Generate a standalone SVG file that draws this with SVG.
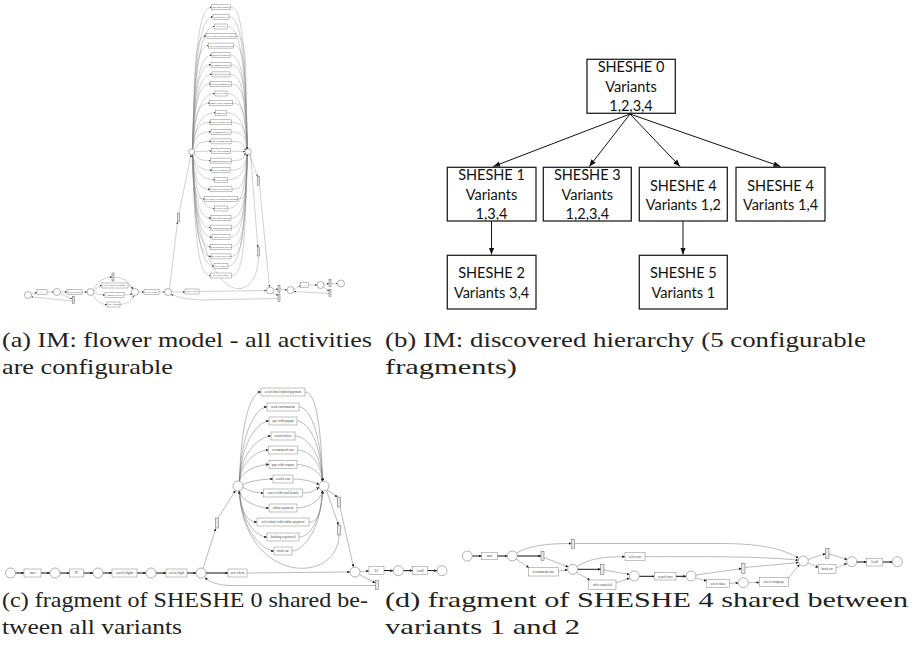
<svg xmlns="http://www.w3.org/2000/svg" width="916" height="661" viewBox="0 0 916 661">
<style>
.p{fill:#fff;stroke:#666;stroke-width:0.5}
.t{fill:#fff;stroke:#777;stroke-width:0.45}
.s{fill:#e6e6e6;stroke:#555;stroke-width:0.45}
.e{fill:none;stroke:#8a8a8a;stroke-width:0.4;marker-end:url(#ma)}
.ec{fill:none;stroke:#777;stroke-width:0.5;marker-end:url(#mc)}
.k{fill:none;stroke:#111;stroke-width:1;marker-end:url(#mc)}
.l1{font-family:"Liberation Serif",serif;font-size:2.6px;fill:#444;text-anchor:middle}
.l2{font-family:"Liberation Serif",serif;font-size:3.3px;fill:#444;text-anchor:middle}
.bx{fill:#fff;stroke:#222;stroke-width:1.3}
.bt{font-family:Lato,"Liberation Sans",sans-serif;font-size:14.5px;fill:#111;text-anchor:middle}
.be{fill:none;stroke:#111;stroke-width:1;marker-end:url(#mb)}
.cap{font-family:"Liberation Serif",serif;font-size:22px;fill:#222}
</style>
<defs>
<marker id="ma" viewBox="0 0 10 10" refX="10" refY="5" markerWidth="2" markerHeight="2" markerUnits="userSpaceOnUse" orient="auto"><path d="M0,0L10,5L0,10z" fill="#333"/></marker>
<marker id="mc" viewBox="0 0 10 10" refX="10" refY="5" markerWidth="2.8" markerHeight="2.8" markerUnits="userSpaceOnUse" orient="auto"><path d="M0,0L10,5L0,10z" fill="#222"/></marker>
<marker id="mb" viewBox="0 0 10 10" refX="10" refY="5" markerWidth="7" markerHeight="7" markerUnits="userSpaceOnUse" orient="auto"><path d="M0,1L10,5L0,9z" fill="#111"/></marker>
</defs>

<!-- (a) connectors -->
<g id="edges-a">
<path class="e" d="M192.5,149.2 C195,43.4 199.5,7.3 211.5,7.3"/><path class="e" d="M230.5,7.3 C242.5,7.3 245,43.4 247.4,149.2"/>
<path class="e" d="M192.5,149.2 C195,50.6 201,16.9 213,16.9"/><path class="e" d="M229,16.9 C241,16.9 245,50.6 247.4,149.2"/>
<path class="e" d="M192.5,149.2 C195,57.8 202.5,26.5 214.5,26.5"/><path class="e" d="M227.5,26.5 C239.5,26.5 245,57.8 247.4,149.2"/>
<path class="e" d="M192.5,149.2 C195,65 194,36 206,36"/><path class="e" d="M236,36 C248,36 245,65 247.4,149.2"/>
<path class="e" d="M192.5,149.2 C195,72.2 196.5,45.6 208.5,45.6"/><path class="e" d="M233.5,45.6 C245.5,45.6 245,72.2 247.4,149.2"/>
<path class="e" d="M192.5,149.2 C195,79.4 200,55.2 212,55.2"/><path class="e" d="M230,55.2 C242,55.2 245,79.4 247.4,149.2"/>
<path class="e" d="M192.5,149.2 C195,86.6 199,64.8 211,64.8"/><path class="e" d="M231,64.8 C243,64.8 245,86.6 247.4,149.2"/>
<path class="e" d="M192.5,149.2 C195,93.8 200,74.4 212,74.4"/><path class="e" d="M230,74.4 C242,74.4 245,93.8 247.4,149.2"/>
<path class="e" d="M192.5,149.2 C195,100.9 198.5,83.9 210.5,83.9"/><path class="e" d="M231.5,83.9 C243.5,83.9 245,100.9 247.4,149.2"/>
<path class="e" d="M192.5,149.2 C195,108.1 203,93.5 215,93.5"/><path class="e" d="M227,93.5 C239,93.5 245,108.1 247.4,149.2"/>
<path class="e" d="M192.5,149.2 C195,115.3 197.5,103.1 209.5,103.1"/><path class="e" d="M232.5,103.1 C244.5,103.1 245,115.3 247.4,149.2"/>
<path class="e" d="M192.5,149.2 C195,122.5 203.5,112.7 215.5,112.7"/><path class="e" d="M226.5,112.7 C238.5,112.7 245,122.5 247.4,149.2"/>
<path class="e" d="M192.5,149.2 C195,129.7 198.5,122.3 210.5,122.3"/><path class="e" d="M231.5,122.3 C243.5,122.3 245,129.7 247.4,149.2"/>
<path class="e" d="M192.5,149.2 C195,136.8 199,131.8 211,131.8"/><path class="e" d="M231,131.8 C243,131.8 245,136.8 247.4,149.2"/>
<path class="e" d="M194.4,150.5 C197,144 199,141.4 211,141.4"/><path class="e" d="M231,141.4 C243,141.4 243,144 245.5,150.5"/>
<path class="e" d="M194.7,151.7 L211.5,151"/><path class="e" d="M230.5,151 L245.2,151.7"/>
<path class="e" d="M194.4,153.1 C197,158.4 198.5,160.6 210.5,160.6"/><path class="e" d="M231.5,160.6 C243.5,160.6 243,158.4 245.5,153.1"/>
<path class="e" d="M192.5,154.4 C195,165.6 200,170.2 212,170.2"/><path class="e" d="M230,170.2 C242,170.2 245,165.6 247.4,154.4"/>
<path class="e" d="M192.5,154.4 C195,172.7 202.5,179.7 214.5,179.7"/><path class="e" d="M227.5,179.7 C239.5,179.7 245,172.7 247.4,154.4"/>
<path class="e" d="M192.5,154.4 C195,179.9 198,189.3 210,189.3"/><path class="e" d="M232,189.3 C244,189.3 245,179.9 247.4,154.4"/>
<path class="e" d="M192.5,154.4 C195,187.1 192.5,198.9 204.5,198.9"/><path class="e" d="M237.5,198.9 C249.5,198.9 245,187.1 247.4,154.4"/>
<path class="e" d="M192.5,154.4 C195,194.3 202.5,208.5 214.5,208.5"/><path class="e" d="M227.5,208.5 C239.5,208.5 245,194.3 247.4,154.4"/>
<path class="e" d="M192.5,154.4 C195,201.5 199,218.1 211,218.1"/><path class="e" d="M231,218.1 C243,218.1 245,201.5 247.4,154.4"/>
<path class="e" d="M192.5,154.4 C195,208.7 198.5,227.6 210.5,227.6"/><path class="e" d="M231.5,227.6 C243.5,227.6 245,208.7 247.4,154.4"/>
<path class="e" d="M192.5,154.4 C195,215.9 200,237.2 212,237.2"/><path class="e" d="M230,237.2 C242,237.2 245,215.9 247.4,154.4"/>
<path class="e" d="M192.5,154.4 C195,223.1 198.5,246.8 210.5,246.8"/><path class="e" d="M231.5,246.8 C243.5,246.8 245,223.1 247.4,154.4"/>
<path class="e" d="M192.5,154.4 C195,230.3 199,256.4 211,256.4"/><path class="e" d="M231,256.4 C243,256.4 245,230.3 247.4,154.4"/>
<path class="e" d="M192.5,154.4 C195,237.5 202,266 214,266"/><path class="e" d="M228,266 C240,266 245,237.5 247.4,154.4"/>
<path class="e" d="M192.5,154.4 C195,244.6 198.5,275.5 210.5,275.5"/><path class="e" d="M231.5,275.5 C243.5,275.5 245,244.6 247.4,154.4"/>
<path class="e" d="M31.5,294.3 L37,292.5"/>
<path class="e" d="M47,292 L53.5,292"/>
<path class="e" d="M60.5,292 L67,292"/>
<path class="e" d="M60.3,293.8 L72.3,299"/>
<path class="e" d="M72.3,301 L31.4,296.8"/>
<path class="e" d="M82,292 L87,292"/>
<path class="e" d="M93,289.5 Q100,277 112,277"/><path class="e" d="M114,277 Q127,277 133,289"/>
<path class="e" d="M94,291 Q98,285.5 102,285.5"/><path class="e" d="M128,285.5 Q132,286 132.3,289.3"/>
<path class="e" d="M94,293 Q99,295 105,295"/><path class="e" d="M124,295 Q129,295 132.3,293.8"/>
<path class="e" d="M93,295 Q98,304.5 107,304.5"/><path class="e" d="M120,304.5 Q130,304 134,295.5"/>
<path class="e" d="M138.5,292 L144,292"/>
<path class="e" d="M159,292 L164.5,292"/>
<path class="e" d="M171.5,292 L185,292"/>
<path class="e" d="M199,291.5 L266.5,290.5"/>
<path class="e" d="M169.5,288.8 L177.5,222"/>
<path class="e" d="M179,213 L191,155"/>
<path class="e" d="M249.5,154.6 L257.5,176.5"/>
<path class="e" d="M259.5,185.5 L269.5,287"/>
<path class="e" d="M250.5,153.8 L257.8,247"/>
<path class="e" d="M258.5,256 C258,310 196,310 192,155"/>
<path class="e" d="M273,292.5 L278,295.5"/>
<path class="e" d="M278,298.5 L200,300 Q185,300 171,294.5"/>
<path class="e" d="M273.5,290 L278,289"/>
<path class="e" d="M280,289 L287,290"/>
<path class="e" d="M294,289.5 L300.5,285.5"/>
<path class="e" d="M308.5,285 L317,285"/>
<path class="e" d="M324,284.5 L329,283.5"/>
<path class="e" d="M331,283.5 L337.5,283.5"/>
<path class="e" d="M323.5,287 L329,291"/>
<path class="e" d="M329,293.5 L294,291.5"/>
</g>

<!-- (a) nodes -->
<g id="a-p0"><circle class="p" cx="28" cy="295" r="3.5"/></g>
<g id="a-t1"><rect class="t" x="37" y="289.5" width="10" height="5"/><text class="l1" x="42" y="292.9">t1</text></g>
<g id="a-p1"><circle class="p" cx="57" cy="292" r="3.5"/></g>
<g id="a-sf"><rect class="t" x="67" y="289.5" width="15" height="5"/><text class="l1" x="74.5" y="292.9">search flights</text></g>
<g id="a-s0"><rect class="s" x="72.3" y="296.5" width="2" height="7"/></g>
<g id="a-p2"><circle class="p" cx="90.5" cy="292" r="3.5"/></g>
<g id="a-s1"><rect class="s" x="112" y="273" width="2" height="8"/></g>
<g id="a-pd"><rect class="t" x="102" y="283" width="26" height="5"/><text class="l1" x="115" y="286.4">percentage discount</text></g>
<g id="a-co"><rect class="t" x="105" y="292.5" width="19" height="5"/><text class="l1" x="114.5" y="295.9">compare offers</text></g>
<g id="a-ff"><rect class="t" x="107" y="302" width="13" height="5"/><text class="l1" x="113.5" y="305.4">filter flights</text></g>
<g id="a-p3"><circle class="p" cx="135" cy="292" r="3.5"/></g>
<g id="a-sel"><rect class="t" x="144" y="289.5" width="15" height="5"/><text class="l1" x="151.5" y="292.9">select flight</text></g>
<g id="a-p4"><circle class="p" cx="168" cy="292" r="3.5"/></g>
<g id="a-nc"><rect class="t" x="185" y="289" width="14" height="5"/><text class="l1" x="192" y="292.4">new client</text></g>
<g id="a-s3"><rect class="s" x="177.4" y="213" width="2" height="9"/></g>
<g id="a-L"><circle class="p" cx="191.7" cy="151.8" r="3"/></g>
<g id="a-R"><circle class="p" cx="248.2" cy="151.8" r="3"/></g>
<g id="a-s4"><rect class="s" x="257.5" y="176.5" width="2" height="9"/></g>
<g id="a-s5"><rect class="s" x="257.5" y="247" width="2" height="9"/></g>
<g id="a-p5"><circle class="p" cx="270" cy="290.5" r="3.5"/></g>
<g id="a-s6"><rect class="s" x="278" y="285.5" width="2" height="7"/></g>
<g id="a-s7"><rect class="s" x="278" y="294.5" width="2" height="7"/></g>
<g id="a-p6"><circle class="p" cx="290.5" cy="290" r="3.5"/></g>
<g id="a-t2"><rect class="t" x="300.5" y="282.3" width="8" height="5"/><text class="l1" x="304.5" y="285.7">t1</text></g>
<g id="a-p7"><circle class="p" cx="320.5" cy="285" r="3.5"/></g>
<g id="a-s8"><rect class="s" x="329" y="279.5" width="2" height="7"/></g>
<g id="a-s9"><rect class="s" x="329" y="289.5" width="2" height="7"/></g>
<g id="a-p8"><circle class="p" cx="341" cy="283.5" r="3.5"/></g>
<g id="a-flower">
<g id="a-f0"><rect class="t" x="211.5" y="4.8" width="19" height="5"/><text class="l1" x="221" y="8.2">confirm payment</text></g>
<g id="a-f1"><rect class="t" x="213" y="14.4" width="16" height="5"/><text class="l1" x="221" y="17.8">search hotels</text></g>
<g id="a-f2"><rect class="t" x="214.5" y="24" width="13" height="5"/><text class="l1" x="221" y="27.4">select city</text></g>
<g id="a-f3"><rect class="t" x="206" y="33.5" width="30" height="5"/><text class="l1" x="221" y="36.9">select hotel hybrid payment</text></g>
<g id="a-f4"><rect class="t" x="208.5" y="43.1" width="25" height="5"/><text class="l1" x="221" y="46.5">enter credit card details</text></g>
<g id="a-f5"><rect class="t" x="212" y="52.7" width="18" height="5"/><text class="l1" x="221" y="56.1">online payment</text></g>
<g id="a-f6"><rect class="t" x="211" y="62.3" width="20" height="5"/><text class="l1" x="221" y="65.7">recommend hotels</text></g>
<g id="a-f7"><rect class="t" x="212" y="71.9" width="18" height="5"/><text class="l1" x="221" y="75.3">pay with paypal</text></g>
<g id="a-f8"><rect class="t" x="210.5" y="81.4" width="21" height="5"/><text class="l1" x="221" y="84.8">search promotions</text></g>
<g id="a-f9"><rect class="t" x="215" y="91" width="12" height="5"/><text class="l1" x="221" y="94.4">select car</text></g>
<g id="a-f10"><rect class="t" x="209.5" y="100.6" width="23" height="5"/><text class="l1" x="221" y="104">remove other products</text></g>
<g id="a-f11"><rect class="t" x="215.5" y="110.2" width="11" height="5"/><text class="l1" x="221" y="113.6">book car</text></g>
<g id="a-f12"><rect class="t" x="210.5" y="119.8" width="21" height="5"/><text class="l1" x="221" y="123.2">send welcome offer</text></g>
<g id="a-f13"><rect class="t" x="211" y="129.3" width="20" height="5"/><text class="l1" x="221" y="132.7">recommend cars</text></g>
<g id="a-f14"><rect class="t" x="211" y="138.9" width="20" height="5"/><text class="l1" x="221" y="142.3">enter promo code</text></g>
<g id="a-f15"><rect class="t" x="211.5" y="148.5" width="19" height="5"/><text class="l1" x="221" y="151.9">pay with coupon</text></g>
<g id="a-f16"><rect class="t" x="210.5" y="158.1" width="21" height="5"/><text class="l1" x="221" y="161.5">booking registered</text></g>
<g id="a-f17"><rect class="t" x="212" y="167.7" width="18" height="5"/><text class="l1" x="221" y="171.1">select company</text></g>
<g id="a-f18"><rect class="t" x="214.5" y="177.2" width="13" height="5"/><text class="l1" x="221" y="180.6">select dates</text></g>
<g id="a-f19"><rect class="t" x="210" y="186.8" width="22" height="5"/><text class="l1" x="221" y="190.2">register client hotel</text></g>
<g id="a-f20"><rect class="t" x="204.5" y="196.4" width="33" height="5"/><text class="l1" x="221" y="199.8">select hotel with online payment</text></g>
<g id="a-f21"><rect class="t" x="214.5" y="206" width="13" height="5"/><text class="l1" x="221" y="209.4">search cars</text></g>
<g id="a-f22"><rect class="t" x="211" y="215.6" width="20" height="5"/><text class="l1" x="221" y="219">send confirmation</text></g>
<g id="a-f23"><rect class="t" x="210.5" y="225.1" width="21" height="5"/><text class="l1" x="221" y="228.5">search hybrid hotels</text></g>
<g id="a-f24"><rect class="t" x="212" y="234.7" width="18" height="5"/><text class="l1" x="221" y="238.1">offer canceled</text></g>
<g id="a-f25"><rect class="t" x="210.5" y="244.3" width="21" height="5"/><text class="l1" x="221" y="247.7">search online hotels</text></g>
<g id="a-f26"><rect class="t" x="211" y="253.9" width="20" height="5"/><text class="l1" x="221" y="257.3">pay with credit card</text></g>
<g id="a-f27"><rect class="t" x="214" y="263.5" width="14" height="5"/><text class="l1" x="221" y="266.9">filter hotels</text></g>
<g id="a-f28"><rect class="t" x="210.5" y="273" width="21" height="5"/><text class="l1" x="221" y="276.4">new client hotel</text></g>
</g>

<!-- (b) connectors -->
<g id="edges-b">
<path class="be" d="M630,114 L493.3,166.5"/>
<path class="be" d="M630,114 L589.3,166.5"/>
<path class="be" d="M630,114 L680,166.5"/>
<path class="be" d="M630,114 L780.5,166.5"/>
<path class="be" d="M491.5,221 L491.5,254.5"/>
<path class="be" d="M683,221 L683,254.5"/>
</g>
<g id="b-n0"><rect class="bx" x="587" y="59.3" width="88.3" height="54"/><text class="bt" x="631" y="72.3">SHESHE 0</text><text class="bt" x="631" y="91.5">Variants</text><text class="bt" x="631" y="110.5">1,2,3,4</text></g>
<g id="b-n1"><rect class="bx" x="447.3" y="167.3" width="88.7" height="53.7"/><text class="bt" x="491.5" y="180.3">SHESHE 1</text><text class="bt" x="491.5" y="199.5">Variants</text><text class="bt" x="491.5" y="218.5">1,3,4</text></g>
<g id="b-n3"><rect class="bx" x="543.3" y="167.3" width="88" height="53.7"/><text class="bt" x="587.3" y="180.3">SHESHE 3</text><text class="bt" x="587.3" y="199.5">Variants</text><text class="bt" x="587.3" y="218.5">1,2,3,4</text></g>
<g id="b-n4"><rect class="bx" x="639.3" y="167.3" width="88" height="53.7"/><text class="bt" x="683.3" y="190.5">SHESHE 4</text><text class="bt" x="683.3" y="209.8">Variants 1,2</text></g>
<g id="b-n4b"><rect class="bx" x="736" y="167.3" width="89" height="53.7"/><text class="bt" x="780.5" y="190.5">SHESHE 4</text><text class="bt" x="780.5" y="209.8">Variants 1,4</text></g>
<g id="b-n2"><rect class="bx" x="447.3" y="255.3" width="88.7" height="53.7"/><text class="bt" x="491.5" y="278.3">SHESHE 2</text><text class="bt" x="491.5" y="297.8">Variants 3,4</text></g>
<g id="b-n5"><rect class="bx" x="639.3" y="255.3" width="88" height="53.7"/><text class="bt" x="683.3" y="278.3">SHESHE 5</text><text class="bt" x="683.3" y="297.8">Variants 1</text></g>

<!-- (c) connectors -->
<g id="edges-c">
<path class="k" d="M15.5,573 L24,573"/>
<path class="k" d="M41,573 L50,573"/>
<path class="k" d="M60,573 L69.5,573"/>
<path class="k" d="M83.5,573 L93,573"/>
<path class="k" d="M103,573 L112,573"/>
<path class="k" d="M137,573 L146,573"/>
<path class="k" d="M156,573 L166,573"/>
<path class="k" d="M187,573 L196,573"/>
<path class="k" d="M206,573 L228,573"/>
<path class="ec" d="M247,573 L350,572"/>
<path class="ec" d="M203,568.5 L215.8,528.5"/>
<path class="ec" d="M218,518 L235.5,490.5"/>
<path class="ec" d="M239.5,481.3 C241,420.2 251,392 261,392"/><path class="ec" d="M305,392 C315,392 321,420.2 322.5,481.3"/>
<path class="ec" d="M239.5,481.3 C241,430.7 257,407 267,407"/><path class="ec" d="M299,407 C309,407 321,430.7 322.5,481.3"/>
<path class="ec" d="M239.5,481.3 C241,440.5 259,421 269,421"/><path class="ec" d="M297,421 C307,421 321,440.5 322.5,481.3"/>
<path class="ec" d="M239.5,481.3 C241,451 261,436 271,436"/><path class="ec" d="M295,436 C305,436 321,451 322.5,481.3"/>
<path class="ec" d="M239.5,481.3 C241,460.8 258.5,450 268.5,450"/><path class="ec" d="M297.5,450 C307.5,450 321,460.8 322.5,481.3"/>
<path class="ec" d="M239.5,481.3 C241,471 259,464.5 269,464.5"/><path class="ec" d="M297,464.5 C307,464.5 321,471 322.5,481.3"/>
<path class="ec" d="M242.8,484.6 C250,481.1 263,479 273,479"/><path class="ec" d="M293,479 C303,479 312,481.1 319.2,484.6"/>
<path class="ec" d="M242.8,487.4 C250,490.9 253.5,493 263.5,493"/><path class="ec" d="M302.5,493 C312.5,493 312,490.9 319.2,487.4"/>
<path class="ec" d="M239.5,490.7 C241,501.4 259,508 269,508"/><path class="ec" d="M297,508 C307,508 321,501.4 322.5,490.7"/>
<path class="ec" d="M239.5,490.7 C241,511.2 247,522 257,522"/><path class="ec" d="M309,522 C319,522 321,511.2 322.5,490.7"/>
<path class="ec" d="M239.5,490.7 C241,521.7 257,537 267,537"/><path class="ec" d="M299,537 C309,537 321,521.7 322.5,490.7"/>
<path class="ec" d="M239.5,490.7 C241,531.5 264,551 274,551"/><path class="ec" d="M292,551 C302,551 321,531.5 322.5,490.7"/>
<path class="ec" d="M327,490 L337.5,497"/>
<path class="ec" d="M340,507 L353.5,567"/>
<path class="ec" d="M326.5,490.5 L338.5,525"/>
<path class="ec" d="M339,535 C338,585 245,585 239,491"/>
<path class="ec" d="M360,571.5 L369,571"/>
<path class="k" d="M384,570.5 L393,570.7"/>
<path class="k" d="M403.3,570.7 L412.7,570.5"/>
<path class="k" d="M427.7,570.5 L437,570.7"/>
<path class="ec" d="M359.5,574.5 L375.3,583"/>
<path class="ec" d="M375.3,585.5 L230,585.5 Q212,585 205,577.5"/>
</g>
<g id="c-p0"><circle class="p" cx="10.5" cy="573" r="5"/></g>
<g id="c-start"><rect class="t" x="24" y="569" width="17" height="8"/><text class="l2" x="32.5" y="574.2">start</text></g>
<g id="c-p1"><circle class="p" cx="55" cy="573" r="5"/></g>
<g id="c-ff"><rect class="t" x="69.5" y="569" width="14" height="8"/><text class="l2" x="76.5" y="574.2">FF</text></g>
<g id="c-p2"><circle class="p" cx="98" cy="573" r="5"/></g>
<g id="c-sf"><rect class="t" x="112" y="569" width="25" height="8"/><text class="l2" x="124.5" y="574.2">search flights</text></g>
<g id="c-p3"><circle class="p" cx="151" cy="573" r="5"/></g>
<g id="c-sel"><rect class="t" x="166" y="569" width="21" height="8"/><text class="l2" x="176.5" y="574.2">select flight</text></g>
<g id="c-p4"><circle class="p" cx="201" cy="573" r="5"/></g>
<g id="c-nc"><rect class="t" x="228" y="569" width="19" height="8"/><text class="l2" x="237.5" y="574.2">new client</text></g>
<g id="c-s1"><rect class="s" x="215.5" y="518" width="3" height="10"/></g>
<g id="c-L"><circle class="p" cx="238" cy="486" r="5"/></g>
<g id="c-R"><circle class="p" cx="324" cy="486" r="5"/></g>
<g id="c-s2"><rect class="s" x="337.5" y="497" width="3" height="10"/></g>
<g id="c-s3"><rect class="s" x="337.5" y="525" width="3" height="10"/></g>
<g id="c-p5"><circle class="p" cx="355" cy="572" r="5"/></g>
<g id="c-e1"><rect class="t" x="369" y="566.5" width="15" height="8"/><text class="l2" x="376.5" y="571.7">E1</text></g>
<g id="c-p6"><circle class="p" cx="398.3" cy="570.7" r="5"/></g>
<g id="c-end"><rect class="t" x="412.7" y="566.5" width="15" height="8"/><text class="l2" x="420.2" y="571.7">[end]</text></g>
<g id="c-p7"><circle class="p" cx="442" cy="570.7" r="5"/></g>
<g id="c-s4"><rect class="s" x="375.3" y="580.5" width="3" height="9"/></g>
<g id="c-b0"><rect class="t" x="261" y="388" width="44" height="8"/><text class="l2" x="283" y="393.2">select hotel hybrid payment</text></g>
<g id="c-b1"><rect class="t" x="267" y="403" width="32" height="8"/><text class="l2" x="283" y="408.2">send confirmation</text></g>
<g id="c-b2"><rect class="t" x="269" y="417" width="28" height="8"/><text class="l2" x="283" y="422.2">pay with paypal</text></g>
<g id="c-b3"><rect class="t" x="271" y="432" width="24" height="8"/><text class="l2" x="283" y="437.2">search hotels</text></g>
<g id="c-b4"><rect class="t" x="268.5" y="446" width="29" height="8"/><text class="l2" x="283" y="451.2">recommend cars</text></g>
<g id="c-b5"><rect class="t" x="269" y="460.5" width="28" height="8"/><text class="l2" x="283" y="465.7">pay with coupon</text></g>
<g id="c-b6"><rect class="t" x="273" y="475" width="20" height="8"/><text class="l2" x="283" y="480.2">search cars</text></g>
<g id="c-b7"><rect class="t" x="263.5" y="489" width="39" height="8"/><text class="l2" x="283" y="494.2">enter credit card details</text></g>
<g id="c-b8"><rect class="t" x="269" y="504" width="28" height="8"/><text class="l2" x="283" y="509.2">online payment</text></g>
<g id="c-b9"><rect class="t" x="257" y="518" width="52" height="8"/><text class="l2" x="283" y="523.2">select hotel with online payment</text></g>
<g id="c-b10"><rect class="t" x="267" y="533" width="32" height="8"/><text class="l2" x="283" y="538.2">booking registered</text></g>
<g id="c-b11"><rect class="t" x="274" y="547" width="18" height="8"/><text class="l2" x="283" y="552.2">book car</text></g>

<!-- (d) connectors -->
<g id="edges-d">
<path class="k" d="M472.3,556 L481.7,556"/>
<path class="k" d="M497.3,556 L507.3,556"/>
<path class="ec" d="M516.5,553 C530,545 550,543.5 571.5,543.5"/>
<path class="ec" d="M574.5,543.5 L720,543.5 C765,543.5 785,550 798.6,558.3"/>
<path class="k" d="M517.3,556 L541,556"/>
<path class="ec" d="M544,557.5 L568.3,567"/>
<path class="ec" d="M516,559 L529,567.7"/>
<path class="ec" d="M558.3,571 L567.7,569.8"/>
<path class="ec" d="M577,566.5 C590,558 605,556.7 625,556.7"/>
<path class="ec" d="M645,556.7 C700,556.7 760,556 798.3,560.2"/>
<path class="k" d="M577.7,569.3 L600.7,569.3"/>
<path class="ec" d="M604,570 L629.5,574.5"/>
<path class="ec" d="M576.5,572.5 L590,580"/>
<path class="ec" d="M616,583 L629.5,578"/>
<path class="k" d="M639.3,576.3 L654.3,576.3"/>
<path class="k" d="M676,576.3 L686,576.3"/>
<path class="ec" d="M696,575 L741.7,568.5"/>
<path class="ec" d="M745,567.5 L798.5,562.5"/>
<path class="ec" d="M695.7,578 L706.7,581"/>
<path class="ec" d="M729.3,583.3 L738.3,583"/>
<path class="ec" d="M748.3,582.7 L759.3,582.5"/>
<path class="ec" d="M788.3,578 L799.5,564.5"/>
<path class="ec" d="M808,559.5 L825.7,553.5"/>
<path class="ec" d="M829,554 L847.3,559.5"/>
<path class="ec" d="M808,563 L818.3,567.5"/>
<path class="ec" d="M836,568 L847,563.5"/>
<path class="k" d="M856.7,562 L866.7,562"/>
<path class="k" d="M882.7,562 L892.3,562"/>
</g>
<g id="d-p0"><circle class="p" cx="467.3" cy="556" r="5"/></g>
<g id="d-start"><rect class="t" x="481.7" y="552.3" width="15.6" height="7.5"/><text class="l2" x="489.5" y="557.2">start</text></g>
<g id="d-p1"><circle class="p" cx="512.3" cy="556" r="5"/></g>
<g id="d-s0"><rect class="s" x="571.5" y="539.3" width="3" height="9"/></g>
<g id="d-s1"><rect class="s" x="541" y="551.5" width="3" height="9"/></g>
<g id="d-rc"><rect class="t" x="528.3" y="567.7" width="30" height="8.3"/><text class="l2" x="543.3" y="573">recommend cars</text></g>
<g id="d-p2"><circle class="p" cx="572.7" cy="569.3" r="5"/></g>
<g id="d-sc"><rect class="t" x="625" y="552.7" width="20" height="8"/><text class="l2" x="635" y="557.9">select car</text></g>
<g id="d-s2"><rect class="s" x="600.7" y="564.5" width="3.3" height="10"/></g>
<g id="d-oc"><rect class="t" x="588.7" y="580" width="27.3" height="9.3"/><text class="l2" x="602.3" y="585.8">offer canceled</text></g>
<g id="d-p3"><circle class="p" cx="634.3" cy="576" r="5"/></g>
<g id="d-scar"><rect class="t" x="654.3" y="572.7" width="21.7" height="7.3"/><text class="l2" x="665.2" y="577.5">search cars</text></g>
<g id="d-p4"><circle class="p" cx="691" cy="576" r="5"/></g>
<g id="d-s3"><rect class="s" x="741.7" y="563.3" width="3.3" height="10"/></g>
<g id="d-sd"><rect class="t" x="706.7" y="579.3" width="22.6" height="8"/><text class="l2" x="718" y="584.5">select dates</text></g>
<g id="d-p5"><circle class="p" cx="743.3" cy="582.7" r="5"/></g>
<g id="d-sco"><rect class="t" x="759.3" y="577.7" width="29" height="9"/><text class="l2" x="773.8" y="583.3">select company</text></g>
<g id="d-p6"><circle class="p" cx="803.3" cy="561" r="5"/></g>
<g id="d-s4"><rect class="s" x="825.7" y="548.3" width="3.3" height="10"/></g>
<g id="d-bc"><rect class="t" x="818.3" y="564.3" width="17.7" height="9"/><text class="l2" x="827.2" y="569.9">book car</text></g>
<g id="d-p7"><circle class="p" cx="851.7" cy="561.7" r="5"/></g>
<g id="d-end"><rect class="t" x="866.7" y="558.3" width="16" height="7.7"/><text class="l2" x="874.7" y="563.3">[end]</text></g>
<g id="d-p8"><circle class="p" cx="897.3" cy="561.7" r="5"/></g>

<!-- captions -->
<g id="captions">
<text class="cap" x="2" y="347" textLength="370" lengthAdjust="spacingAndGlyphs">(a) IM: flower model - all activities</text>
<text class="cap" x="2" y="373.5" textLength="171" lengthAdjust="spacingAndGlyphs">are configurable</text>
<text class="cap" x="385" y="347" textLength="481" lengthAdjust="spacingAndGlyphs">(b) IM: discovered hierarchy (5 configurable</text>
<text class="cap" x="385" y="373.5" textLength="132" lengthAdjust="spacingAndGlyphs">fragments)</text>
<text class="cap" x="2" y="607" textLength="366" lengthAdjust="spacingAndGlyphs">(c) fragment of SHESHE 0 shared be-</text>
<text class="cap" x="2" y="634" textLength="180" lengthAdjust="spacingAndGlyphs">tween all variants</text>
<text class="cap" x="385" y="607" textLength="523" lengthAdjust="spacingAndGlyphs">(d) fragment of SHESHE 4 shared between</text>
<text class="cap" x="385" y="634" textLength="195" lengthAdjust="spacingAndGlyphs">variants 1 and 2</text>
</g>
</svg>
